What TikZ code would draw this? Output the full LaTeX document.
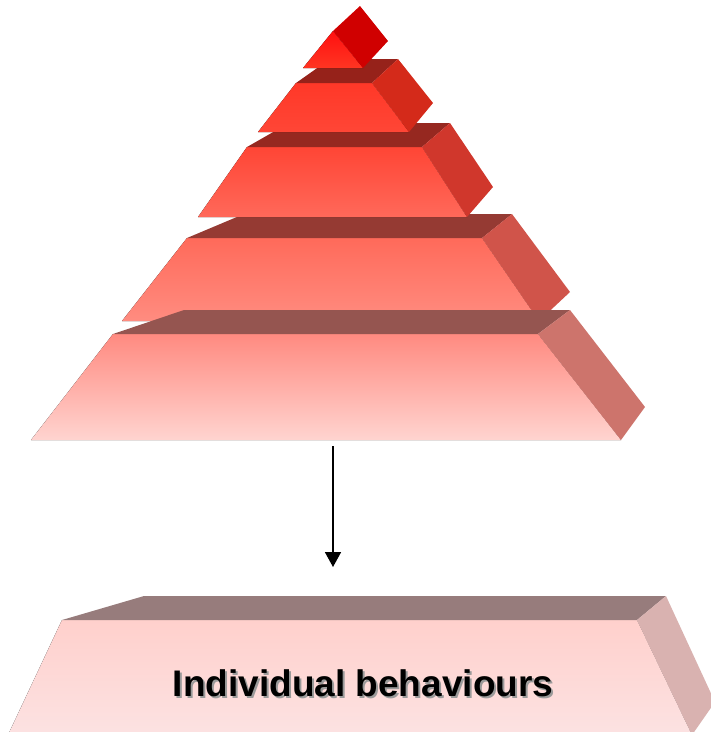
\documentclass[tikz,border=0pt]{standalone}
\usepackage{fontspec}
\setmainfont{Liberation Sans}
\usetikzlibrary{arrows.meta}
\definecolor{t1top}{HTML}{FF1010}
\definecolor{t1bot}{HTML}{FF3522}
\definecolor{t1side}{HTML}{D00000}
\definecolor{t2top}{HTML}{FF3828}
\definecolor{t2bot}{HTML}{FF4636}
\definecolor{t2lid}{HTML}{96221A}
\definecolor{t2side}{HTML}{D42A1A}
\definecolor{t3top}{HTML}{FF4535}
\definecolor{t3bot}{HTML}{FF695A}
\definecolor{t3lid}{HTML}{962820}
\definecolor{t3side}{HTML}{D0372C}
\definecolor{t4top}{HTML}{FF6A5A}
\definecolor{t4bot}{HTML}{FF8C80}
\definecolor{t4lid}{HTML}{953A33}
\definecolor{t4side}{HTML}{D0544A}
\definecolor{t5top}{HTML}{FF8A80}
\definecolor{t5mid}{HTML}{FEA8A2}
\definecolor{t5bot}{HTML}{FFD4D0}
\definecolor{t5lid}{HTML}{955550}
\definecolor{t5side}{HTML}{CD746C}
\definecolor{sltop}{HTML}{FFD0CC}
\definecolor{slbot}{HTML}{FCE2E2}
\definecolor{sllid}{HTML}{977C7C}
\definecolor{slside}{HTML}{D9B2B0}
\definecolor{txtshadow}{HTML}{9A9A9A}
\newcommand{\shadowtext}[1]{\rlap{\kern2pt\raisebox{-2pt}{\textcolor{txtshadow}{#1}}}#1}
\tikzset{
  face/.style={draw=none},
  arrowline/.style={line width=1.7pt,-{Triangle[width=16pt,length=15pt]}},
  label/.style={font=\fontsize{37}{42}\selectfont\bfseries, inner sep=0pt, anchor=base}
}
\begin{document}
\begin{tikzpicture}[x=1pt,y=-1pt]
\useasboundingbox (0,0) rectangle (711,732);
\clip (0,0) rectangle (711,732);
% tier 4
\fill[face, top color=t4top, bottom color=t4bot] (187,238)--(482,238)--(539,321)--(122,321)--cycle;
\fill[face, t4lid] (187,238)--(244,214)--(512,214)--(482,238)--cycle;
\fill[face, t4side] (482,238)--(512,214)--(570,292)--(539,321)--cycle;
% tier 5
\fill[face, top color=t5top, middle color=t5mid, bottom color=t5bot] (113,334)--(538,334)--(621,440)--(31,440)--cycle;
\fill[face, t5lid] (113,334)--(184,310)--(570,310)--(538,334)--cycle;
\fill[face, t5side] (538,334)--(570,310)--(645,407)--(621,440)--cycle;
% tier 3
\fill[face, top color=t3top, bottom color=t3bot] (247,147)--(422,147)--(467,217)--(198,217)--cycle;
\fill[face, t3lid] (247,147)--(289,123)--(450,123)--(422,147)--cycle;
\fill[face, t3side] (422,147)--(450,123)--(493,187)--(467,217)--cycle;
% tier 2
\fill[face, top color=t2top, bottom color=t2bot] (296,83)--(372,83)--(409,132)--(258,132)--cycle;
\fill[face, t2lid] (296,83)--(330,59)--(398,59)--(372,83)--cycle;
\fill[face, t2side] (372,83)--(398,59)--(433,103)--(409,132)--cycle;
% tier 1
\fill[face, top color=t1top, bottom color=t1bot] (333,31)--(363,68)--(303,68)--cycle;
\fill[face, t1side] (333,31)--(360,6)--(388,41)--(363,68)--cycle;
% bottom slab
\fill[face, top color=sltop, bottom color=slbot] (62,620)--(637,620)--(692,735)--(8,735)--cycle;
\fill[face, sllid] (62,620)--(144,596)--(666,596)--(637,620)--cycle;
\fill[face, slside] (637,620)--(666,596)--(715,702)--(692,735)--cycle;
% arrow
\coordinate (arrowstart) at (333,446);
\coordinate (arrowend) at (333,567);
\draw[arrowline] (arrowstart) -- (arrowend);
% label
\node[label, text=black] (labeltext) at (363,696) {\shadowtext{Individual behaviours}};
\end{tikzpicture}
\end{document}
